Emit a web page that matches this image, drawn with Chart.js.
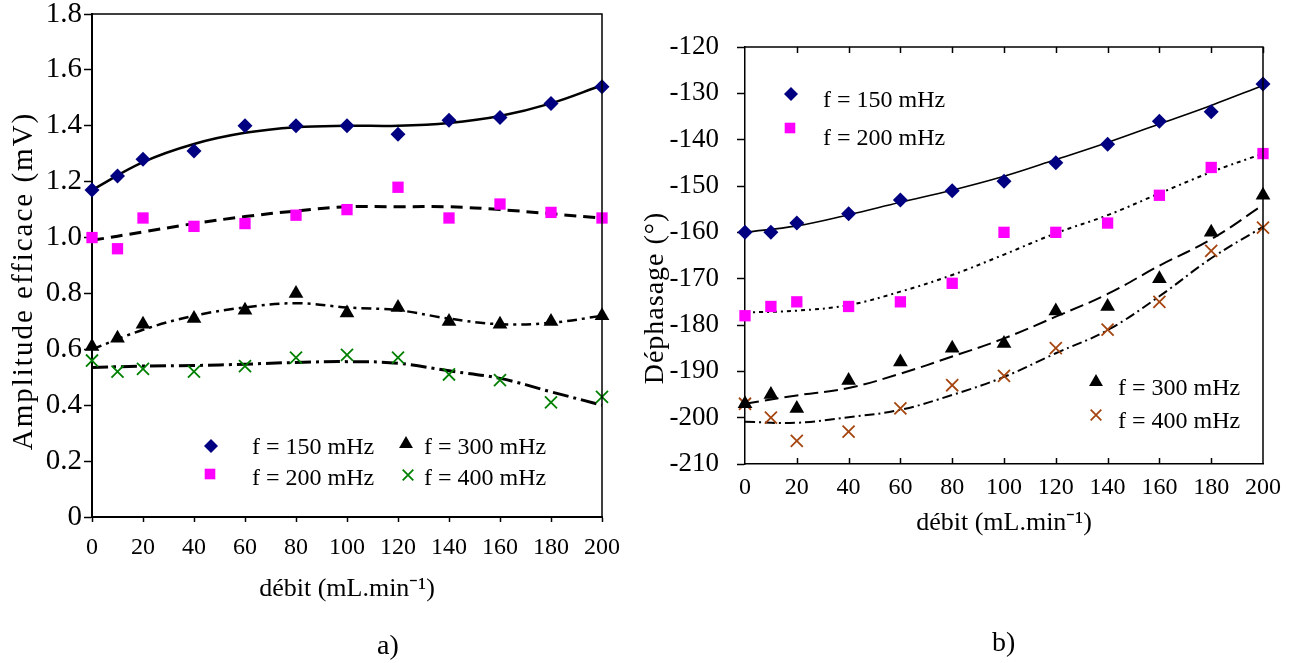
<!DOCTYPE html>
<html>
<head>
<meta charset="utf-8">
<script src="https://cdn.jsdelivr.net/npm/chart.js@4.4.1/dist/chart.umd.min.js"></script>
<style>
  html, body { margin: 0; padding: 0; background: #fff; }
  body { width: 1291px; height: 663px; position: relative; overflow: hidden; }
  #boxA { position: absolute; left: 0; top: 0; width: 640px; height: 663px; }
  #boxB { position: absolute; left: 640px; top: 0; width: 651px; height: 663px; }
  .cap { position: absolute; font: 28px/28px "Liberation Serif", "Times New Roman", serif; color: #000; }
</style>
</head>
<body>
<div id="boxA"><canvas id="chartA" width="640" height="663"></canvas></div>
<div id="boxB"><canvas id="chartB" width="651" height="663"></canvas></div>
<div class="cap" style="left:377px; top:631px">a)</div>
<div class="cap" style="left:992px; top:628px">b)</div>
<script>
// flow rates (mL/min) of the measured points and of the trend curves
const debit = [0, 10, 20, 40, 60, 80, 100, 120, 140, 160, 180, 200];
const fitDebit = [0, 20, 40, 60, 80, 100, 120, 140, 160, 180, 200];
const debitTicks = [0, 20, 40, 60, 80, 100, 120, 140, 160, 180, 200];

// a) amplitude efficace (mV)
const amp150 = [1.17, 1.22, 1.28, 1.31, 1.40, 1.40, 1.40, 1.37, 1.42, 1.43, 1.48, 1.54];
const amp200 = [1.00, 0.96, 1.07, 1.04, 1.05, 1.08, 1.10, 1.18, 1.07, 1.12, 1.09, 1.07];
const amp300 = [0.61, 0.64, 0.69, 0.71, 0.74, 0.80, 0.73, 0.75, 0.70, 0.69, 0.70, 0.72];
const amp400 = [0.56, 0.52, 0.53, 0.52, 0.54, 0.57, 0.58, 0.57, 0.51, 0.49, 0.41, 0.43];
const ampFit150 = [1.17, 1.27, 1.335, 1.375, 1.395, 1.40, 1.40, 1.41, 1.435, 1.48, 1.545];
const ampFit200 = [0.99, 1.02, 1.05, 1.075, 1.095, 1.11, 1.11, 1.11, 1.10, 1.085, 1.07];
const ampFit300 = [0.60, 0.67, 0.72, 0.75, 0.765, 0.75, 0.74, 0.71, 0.69, 0.695, 0.72];
const ampFit400 = [0.535, 0.54, 0.542, 0.547, 0.553, 0.556, 0.55, 0.523, 0.496, 0.448, 0.40];

// b) déphasage (°)
const phase150 = [-160, -160, -158, -156, -153, -151, -149, -145, -141, -136, -134, -128];
const phase200 = [-178, -176, -175, -176, -175, -171, -160, -160, -158, -152, -146, -143];
const phase300 = [-197, -195, -198, -192, -188, -185, -184, -177, -176, -170, -160, -152];
const phase400 = [-197, -200, -205, -203, -198, -193, -191, -185, -181, -175, -164, -159];
const phaseFit150 = [-160, -158.6, -156.2, -153.5, -150.9, -147.9, -144.3, -140.6, -136.6, -132.6, -128.3];
const phaseFit200 = [-177.3, -176.9, -175.7, -172.8, -169.2, -164.8, -160.2, -156.3, -151.6, -147.0, -143.0];
const phaseFit300 = [-197, -195.2, -193.6, -190.5, -186.8, -182.9, -178.2, -173.3, -167.2, -161.5, -154.1];
const phaseFit400 = [-200.9, -201.1, -199.9, -198.3, -195.1, -191.2, -186.1, -181.1, -173.8, -165.6, -158.8];

const labels = ['f = 150 mHz', 'f = 200 mHz', 'f = 300 mHz', 'f = 400 mHz'];

const FONT = '"Liberation Serif", "Times New Roman", Times, serif';
const NAVY = '#000080';
const MAGENTA = '#ff00ff';
const GREEN = '#008000';
const BROWN = '#a5450f';

Chart.defaults.font.family = FONT;
Chart.defaults.color = '#000';

const pts = (xs, ys) => xs.map((x, i) => ({ x, y: ys[i] }));

const markers = (label, xs, ys, style, color, radius) => ({
  label,
  data: pts(xs, ys),
  showLine: false,
  pointStyle: style,
  pointRadius: radius,
  pointHoverRadius: radius,
  pointBackgroundColor: color,
  pointBorderColor: color,
  pointBorderWidth: style === 'crossRot' ? 1.8 : 0,
  clip: false,
  order: 1
});

const trend = (xs, ys, width, dash) => ({
  label: '',
  data: pts(xs, ys),
  showLine: true,
  pointRadius: 0,
  pointHoverRadius: 0,
  borderColor: '#000',
  borderWidth: width,
  borderDash: dash,
  tension: 0.4,
  fill: false,
  clip: false,
  order: 2
});

// frame, inward ticks, rotated axis caption and in-plot legend
const decor = {
  id: 'decor',
  afterDraw(chart, args, opts) {
    const { ctx, chartArea: a, scales } = chart;
    ctx.save();
    ctx.strokeStyle = '#000';
    ctx.lineWidth = opts.frameWidth;
    ctx.beginPath();
    ctx.moveTo(a.left, a.top);
    ctx.lineTo(a.right, a.top);
    ctx.lineTo(a.right, a.bottom);
    ctx.stroke();

    if (opts.innerTicks) {
      ctx.lineWidth = 1.5;
      scales.x.ticks.forEach(t => {
        const px = Math.round(scales.x.getPixelForValue(t.value)) + 0.5;
        if (px < a.left + 2) return;
        ctx.beginPath();
        ctx.moveTo(px, a.top);
        ctx.lineTo(px, a.top + opts.innerTicks);
        if (px < a.right - 2) {
          ctx.moveTo(px, a.bottom);
          ctx.lineTo(px, a.bottom - opts.innerTicks);
        }
        ctx.stroke();
      });
    }

    const yt = opts.yTitle;
    ctx.save();
    ctx.translate(yt.x, yt.y);
    ctx.rotate(-Math.PI / 2);
    ctx.font = `${yt.size}px ${FONT}`;
    if ('letterSpacing' in ctx) ctx.letterSpacing = yt.spacing + 'px';
    ctx.fillStyle = '#000';
    ctx.textAlign = 'center';
    ctx.textBaseline = 'middle';
    ctx.fillText(yt.text, 0, 0);
    ctx.restore();

    opts.legend.forEach(item => {
      const ds = chart.data.datasets[item.dataset];
      ctx.fillStyle = ds.pointBackgroundColor;
      ctx.strokeStyle = ds.pointBorderColor;
      ctx.lineWidth = ds.pointBorderWidth;
      Chart.helpers.drawPoint(ctx, {
        pointStyle: ds.pointStyle,
        radius: item.radius,
        rotation: 0,
        borderWidth: ds.pointBorderWidth
      }, item.mx, item.my);
      ctx.fillStyle = '#000';
      ctx.font = `${opts.legendSize}px ${FONT}`;
      ctx.textAlign = 'left';
      ctx.textBaseline = 'alphabetic';
      ctx.fillText(ds.label, item.tx, item.ty);
    });
    ctx.restore();
  }
};

const zeroPad = s => { s.paddingTop = 0; s.paddingBottom = 0; s.paddingLeft = 0; s.paddingRight = 0; };

function buildA() {
  new Chart(document.getElementById('chartA'), {
    type: 'scatter',
    data: {
      datasets: [
        markers(labels[0], debit, amp150, 'rectRot', NAVY, 7.5),
        markers(labels[1], debit, amp200, 'rect', MAGENTA, 8),
        markers(labels[2], debit, amp300, 'triangle', '#000', 8.5),
        markers(labels[3], debit, amp400, 'crossRot', GREEN, 8.5),
        trend(fitDebit, ampFit150, 2.5, []),
        trend(fitDebit, ampFit200, 3, [12, 7]),
        trend(fitDebit, ampFit300, 2.5, [10, 5, 3, 5]),
        trend(fitDebit, ampFit400, 3, [16, 5, 3, 5])
      ]
    },
    options: {
      responsive: false,
      animation: false,
      devicePixelRatio: 1,
      layout: { autoPadding: false, padding: { left: 0, top: 14, right: 38, bottom: 0 } },
      scales: {
        x: {
          type: 'linear', min: 0, max: 200,
          afterBuildTicks: s => { s.ticks = debitTicks.map(v => ({ value: v })); },
          ticks: { font: { size: 24 }, color: '#000', padding: 11, maxRotation: 0 },
          grid: { drawOnChartArea: false, drawTicks: true, tickLength: 5, tickColor: '#000', tickWidth: 1.5 },
          border: { color: '#000', width: 2 },
          title: { display: true, text: 'débit (mL.min⁻¹)', font: { size: 26 }, color: '#000', padding: { top: 0, bottom: 58 } },
          afterFit: s => { s.height = 146; zeroPad(s); }
        },
        y: {
          min: 0, max: 1.8,
          ticks: { stepSize: 0.2, font: { size: 29 }, color: '#000', padding: 2,
                   callback: v => (Math.abs(v) < 1e-9 ? '0' : Number(v).toFixed(1)) },
          grid: { drawOnChartArea: false, drawTicks: true, tickLength: 8, tickColor: '#000', tickWidth: 1.5 },
          border: { color: '#000', width: 2 },
          afterFit: s => { s.width = 92; zeroPad(s); }
        }
      },
      plugins: {
        legend: { display: false },
        tooltip: { enabled: false },
        decor: {
          frameWidth: 1.5,
          innerTicks: 0,
          yTitle: { text: 'Amplitude efficace (mV)', x: 24, y: 281, size: 29, spacing: 2 },
          legendSize: 24,
          legend: [
            { dataset: 0, radius: 7, mx: 211, my: 446, tx: 252, ty: 454 },
            { dataset: 1, radius: 7.5, mx: 210, my: 474, tx: 252, ty: 485 },
            { dataset: 2, radius: 8, mx: 406, my: 444, tx: 424, ty: 454 },
            { dataset: 3, radius: 7.5, mx: 408, my: 475, tx: 424, ty: 485 }
          ]
        }
      }
    },
    plugins: [decor]
  });
}

function buildB() {
  new Chart(document.getElementById('chartB'), {
    type: 'scatter',
    data: {
      datasets: [
        markers(labels[0], debit, phase150, 'rectRot', NAVY, 7.5),
        markers(labels[1], debit, phase200, 'rect', MAGENTA, 8),
        markers(labels[2], debit, phase300, 'triangle', '#000', 8.5),
        markers(labels[3], debit, phase400, 'crossRot', BROWN, 8.5),
        trend(fitDebit, phaseFit150, 1.6, []),
        trend(fitDebit, phaseFit200, 2, [4, 4, 2, 4]),
        trend(fitDebit, phaseFit300, 2, [14, 6]),
        trend(fitDebit, phaseFit400, 2, [10, 4, 2, 4])
      ]
    },
    options: {
      responsive: false,
      animation: false,
      devicePixelRatio: 1,
      layout: { autoPadding: false, padding: { left: 0, top: 47, right: 28, bottom: 0 } },
      scales: {
        x: {
          type: 'linear', min: 0, max: 200,
          afterBuildTicks: s => { s.ticks = debitTicks.map(v => ({ value: v })); },
          ticks: { font: { size: 24 }, color: '#000', padding: 9, maxRotation: 0 },
          grid: { drawOnChartArea: false, drawTicks: false },
          border: { color: '#000', width: 1.5 },
          title: { display: true, text: 'débit (mL.min⁻¹)', font: { size: 26 }, color: '#000', padding: { top: 0, bottom: 124 } },
          afterFit: s => { s.height = 199; zeroPad(s); }
        },
        y: {
          min: -210, max: -120,
          ticks: { stepSize: 10, font: { size: 27 }, color: '#000', padding: 18, callback: v => String(v) },
          grid: { drawOnChartArea: false, drawTicks: true, tickLength: 8, tickColor: '#000', tickWidth: 1.5 },
          border: { color: '#000', width: 1.5 },
          afterFit: s => { s.width = 105; zeroPad(s); }
        }
      },
      plugins: {
        legend: { display: false },
        tooltip: { enabled: false },
        decor: {
          frameWidth: 1.5,
          innerTicks: 6,
          yTitle: { text: 'Déphasage (°)', x: 16, y: 298, size: 28, spacing: 1 },
          legendSize: 24,
          legend: [
            { dataset: 0, radius: 7, mx: 151, my: 94, tx: 183, ty: 107 },
            { dataset: 1, radius: 7.5, mx: 150, my: 128, tx: 183, ty: 145 },
            { dataset: 2, radius: 8, mx: 456, my: 382, tx: 478, ty: 395 },
            { dataset: 3, radius: 7.5, mx: 456, my: 415, tx: 478, ty: 428 }
          ]
        }
      }
    },
    plugins: [decor]
  });
}

const start = () => { buildA(); buildB(); };
if (document.fonts && document.fonts.load) {
  document.fonts.load(`24px ${FONT}`).then(start, start);
} else {
  start();
}
</script>
</body>
</html>
